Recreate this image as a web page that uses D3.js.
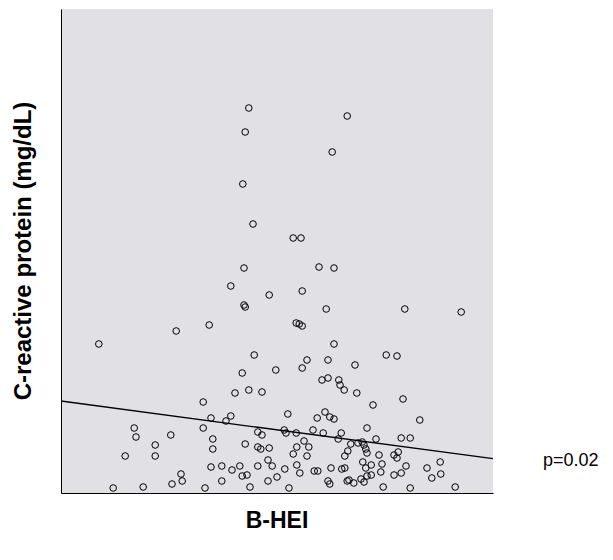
<!DOCTYPE html>
<html>
<head>
<meta charset="utf-8">
<script src="https://cdn.jsdelivr.net/npm/d3@7"></script>
<style>
body{margin:0;background:#fff;}
text{font-family:"Liberation Sans",Arial,sans-serif;}
</style>
</head>
<body>
<div id="chart"></div>
<script>
var w=613, h=560

// B-HEI score of each person
var bhei=[51.3,50.7,50.3,52.0,67.7,65.2,58.7,60.0,50.5,48.3,54.7,50.5,50.7,44.7,39.2,26.3,52.2,50.2,
63.0,65.5,60.2,64.2,77.3,86.7,59.2,59.7,60.2,65.5,74.2,76.0,55.8,61.0,60.2,64.5,69.0,63.5,64.5,66.3,
43.7,32.2,32.5,38.3,43.7,35.7,30.7,35.7,40.0,40.2,38.5,66.5,67.2,49.0,51.3,53.5,45.0,47.5,48.3,57.8,
62.7,64.0,64.8,65.5,52.8,53.5,57.2,57.5,59.2,62.0,63.7,66.2,66.7,45.3,45.3,50.7,52.8,53.3,54.7,59.3,
60.5,61.3,58.7,61.0,67.3,54.5,55.2,45.0,46.8,48.5,49.8,50.2,51.0,52.8,57.3,59.3,59.8,62.2,62.8,65.0,
66.8,46.8,54.5,56.0,64.5,64.8,67.7,69.3,72.0,77.0,79.8,71.0,72.5,76.7,78.2,68.3,69.5,70.2,70.5,70.8,
67.8,71.0,73.0,75.5,76.2,76.0,70.3,71.7,70.8,73.5,73.3,77.5,81.0,83.2,71.0,71.7,75.5,76.7,81.8,83.3,
70.0,70.5,68.0,68.8,67.3,28.7,33.7,44.0,51.5,58.0,73.7,78.2,85.7]

// C-reactive protein (mg/dL), same order
var crp=[3.85,3.61,3.09,2.69,3.77,3.41,2.55,2.55,2.25,2.07,1.98,1.88,1.86,1.68,1.62,1.49,1.38,1.20,
2.26,2.25,2.02,1.84,1.84,1.81,1.70,1.69,1.67,1.49,1.38,1.37,1.23,1.33,1.25,1.33,1.28,1.13,1.15,1.13,
0.91,0.65,0.56,0.58,0.65,0.48,0.37,0.37,0.19,0.12,0.09,1.08,1.03,1.00,1.03,1.01,0.75,0.72,0.77,0.79,
0.75,0.81,0.76,0.74,0.61,0.58,0.63,0.60,0.60,0.63,0.60,0.54,0.60,0.54,0.44,0.49,0.46,0.44,0.45,0.46,
0.52,0.46,0.39,0.37,0.37,0.33,0.27,0.26,0.27,0.23,0.27,0.17,0.18,0.27,0.24,0.28,0.20,0.22,0.22,0.25,
0.24,0.12,0.12,0.16,0.12,0.09,0.12,1.00,0.88,0.94,0.73,0.65,0.54,0.55,0.55,0.49,0.50,0.51,0.48,0.44,
0.42,0.40,0.38,0.38,0.41,0.35,0.31,0.28,0.25,0.29,0.21,0.27,0.25,0.31,0.17,0.18,0.18,0.20,0.15,0.19,
0.14,0.11,0.13,0.10,0.25,0.05,0.06,0.05,0.06,0.05,0.06,0.05,0.06]

// fitted regression line ends
var fitX=[20,92]
var fitY=[0.92,0.343]

var pText="p=0.02"
var xTitle="B-HEI"
var yTitle="C-reactive protein (mg/dL)"

var padL=61, padR=493, padT=9, padB=493

var svg=d3.select("#chart")
.append("svg")
.attr("width",w)
.attr("height",h);

var x=d3.scaleLinear().domain([20,92]).range([padL,padR]);
var y=d3.scaleLinear().domain([0,4.84]).range([padB,padT]);

// plot background
svg.append("rect")
.attr("x",padL)
.attr("y",padT)
.attr("width",padR-padL)
.attr("height",padB-padT)
.attr("fill","#e1e0e5");

// axes, no ticks
svg.append("g")
.attr("transform","translate("+padL+",0)")
.call(d3.axisLeft(y).tickValues([]).tickSizeOuter(0))
.select(".domain").attr("stroke","#000");

svg.append("g")
.attr("transform","translate(0,"+padB+")")
.call(d3.axisBottom(x).tickValues([]).tickSizeOuter(0))
.select(".domain").attr("stroke","#000");

// points
svg.append("g")
.selectAll("circle")
.data(d3.range(bhei.length))
.join("circle")
.attr("cx",function(i){return x(bhei[i]);})
.attr("cy",function(i){return y(crp[i]);})
.attr("r",3.3)
.attr("fill","none")
.attr("stroke","#000")
.attr("stroke-width",1);

// fit line
svg.append("line")
.attr("x1",x(fitX[0]))
.attr("y1",y(fitY[0]))
.attr("x2",x(fitX[1]))
.attr("y2",y(fitY[1]))
.attr("stroke","#000")
.attr("stroke-width",1.3);

svg.append("text")
.attr("x",543)
.attr("y",y(fitY[1])+7)
.attr("font-size","18px")
.attr("fill","#000")
.text(pText);

svg.append("text")
.attr("x",(padL+padR)/2)
.attr("y",528)
.attr("text-anchor","middle")
.attr("font-size","23px")
.attr("font-weight","bold")
.text(xTitle);

svg.append("text")
.attr("transform","translate(31,"+(padT+padB)/2+") rotate(-90)")
.attr("text-anchor","middle")
.attr("font-size","24px")
.attr("font-weight","bold")
.text(yTitle);
</script>
</body>
</html>
